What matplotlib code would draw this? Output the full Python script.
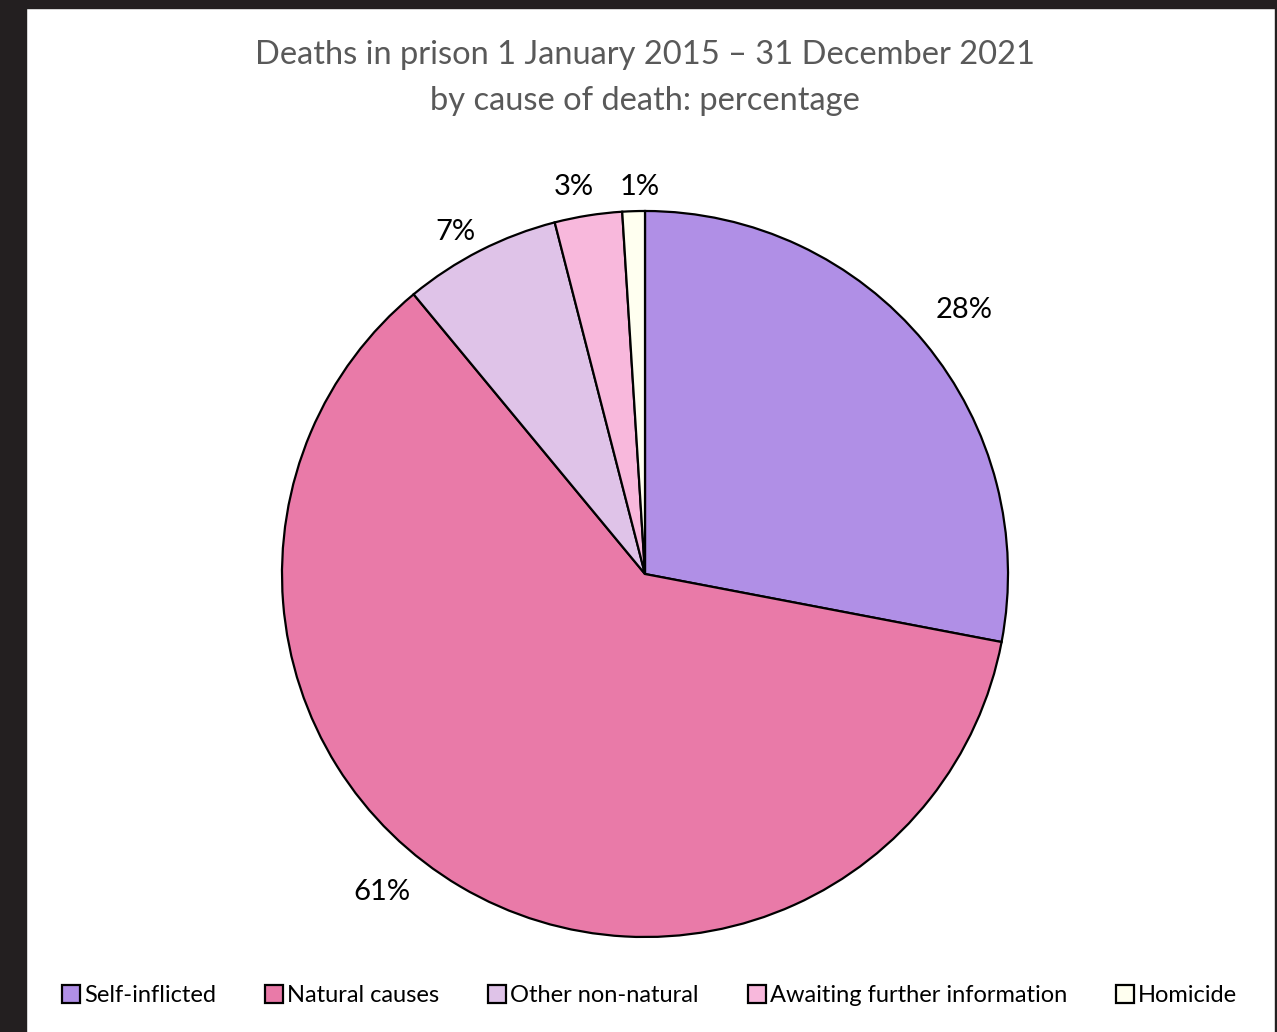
import matplotlib
matplotlib.use("Agg")
import matplotlib.pyplot as plt
from matplotlib.patches import Rectangle
from matplotlib.lines import Line2D
import numpy as np

plt.rcParams['font.family'] = ['Lato', 'DejaVu Sans']

# share of deaths by cause, 2015-2021
causes = ['Self-inflicted', 'Natural causes', 'Other non-natural',
          'Awaiting further information', 'Homicide']
shares = [28, 61, 7, 3, 1]
colours = ['#b08fe6', '#e97aa8', '#dfc3e8', '#f8b8dc', '#fffff0']
# label placement: radius multiple and angle nudge (degrees) from slice middle
label_dist = [1.14, 1.138, 1.077, 1.083, 1.066]
label_nudge = [0, -9, 2, 1.5, -1]

W, H = 1277, 1032
fig = plt.figure(figsize=(W / 100, H / 100), dpi=100)

# dark frame round the white chart area
frame = '#231f20'
fig.patches.append(Rectangle((0, 0), 26 / W, 1, transform=fig.transFigure, color=frame, zorder=0))
fig.patches.append(Rectangle((0, 1 - 8 / H), 1, 8 / H, transform=fig.transFigure, color=frame, zorder=0))
fig.patches.append(Rectangle((1 - 2 / W, 0), 2 / W, 1, transform=fig.transFigure, color=frame, zorder=0))

fig.text(645 / W, 1 - 55 / H, 'Deaths in prison 1 January 2015 \u2013 31 December 2021',
         ha='center', va='center', fontsize=23.5, color='#595959')
fig.text(645 / W, 1 - 101 / H, 'by cause of death: percentage',
         ha='center', va='center', fontsize=23.5, color='#595959')

cx, cy, r = 645, 574, 363
ax = fig.add_axes([(cx - r) / W, (H - cy - r) / H, 2 * r / W, 2 * r / H])
wedges, _ = ax.pie(shares, colors=colours, startangle=90, counterclock=False,
                   wedgeprops=dict(edgecolor='black', linewidth=1.6))
ax.set_xlim(-1, 1)
ax.set_ylim(-1, 1)
ax.set_aspect('equal')
ax.axis('off')

for w, v, d, n in zip(wedges, shares, label_dist, label_nudge):
    mid = np.deg2rad((w.theta1 + w.theta2) / 2 + n)
    ax.text(d * np.cos(mid), d * np.sin(mid), f'{v}%', ha='center', va='center',
            fontsize=21, color='black')

handles = [Line2D([], [], marker='s', linestyle='none', markersize=12.5,
                  markerfacecolor=c, markeredgecolor='black', markeredgewidth=1.6)
           for c in colours]
fig.legend(handles, causes, loc='center', bbox_to_anchor=(650 / W, 1 - 996 / H),
           ncol=5, frameon=False, fontsize=17, handlelength=0.7, handletextpad=0.2,
           columnspacing=2.1)

fig.savefig('out.png', dpi=100, facecolor='white')
